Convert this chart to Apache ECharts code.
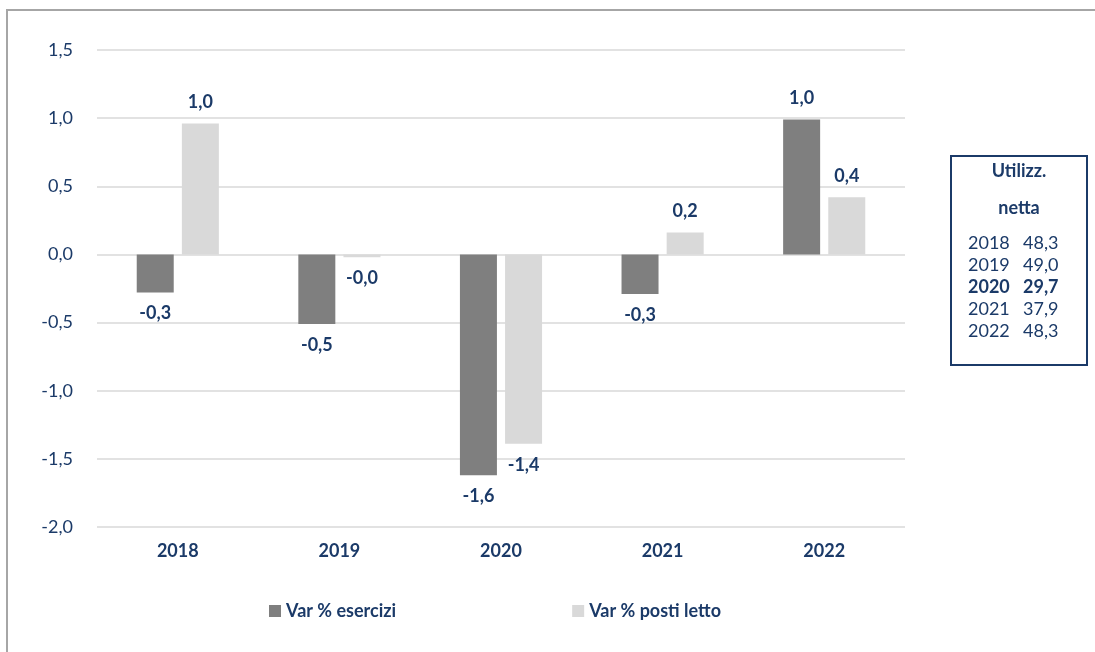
<!DOCTYPE html>
<html>
<head>
<meta charset="utf-8">
<script src="https://cdn.jsdelivr.net/npm/echarts@6/dist/echarts.min.js"></script>
<style>
  html, body { margin: 0; padding: 0; background: #fff; }
  #frame {
    position: absolute; left: 6px; top: 9px; width: 1089px; height: 643px;
    border-top: 2px solid #a6a6a6; border-left: 2px solid #a6a6a6; box-sizing: border-box;
  }
  #chart { position: absolute; left: 0; top: 0; width: 1095px; height: 652px; }
</style>
</head>
<body>
<div id="frame"></div>
<div id="chart"></div>
<script>
const years = ['2018', '2019', '2020', '2021', '2022']
const varEsercizi = [-0.28, -0.51, -1.62, -0.29, 0.99]
const varPostiLetto = [0.96, -0.02, -1.39, 0.16, 0.42]
const utilizzYears = ['2018', '2019', '2020', '2021', '2022']
const utilizzNetta = ['48,3', '49,0', '29,7', '37,9', '48,3']
const highlightYear = '2020'

const navy = '#1b3a68'
const font = 'Lato, "Open Sans", sans-serif'

const fmt = v => v.toFixed(1).replace('.', ',')

const toData = arr => arr.map(v => ({
  value: v,
  label: { position: v < 0 ? 'bottom' : 'top' }
}))

const labelStyle = {
  show: true,
  distance: 12,
  color: navy,
  fontFamily: font,
  fontWeight: 'bold',
  fontSize: 18,
  formatter: p => fmt(p.value)
}

const chart = echarts.init(document.getElementById('chart'))

// riquadro utilizzazione netta
const boxX = 951, boxY = 156
const txt = (text, x, y, bold, align) => ({
  type: 'text', x: x, y: y,
  style: {
    text: text, fill: navy, fontFamily: font, fontSize: 18,
    fontWeight: bold ? 'bold' : 'normal', align: align || 'left', verticalAlign: 'middle'
  }
})
const boxChildren = [
  { type: 'rect', shape: { x: 0, y: 0, width: 136, height: 209 },
    style: { fill: '#fff', stroke: navy, lineWidth: 2 } },
  txt('Utilizz.', 68, 15, true, 'center'),
  txt('netta', 68, 52, true, 'center')
]
utilizzYears.forEach((y, i) => {
  const b = y === highlightYear
  boxChildren.push(txt(y, 17, 87 + i * 22, b))
  boxChildren.push(txt(utilizzNetta[i], 72, 87 + i * 22, b))
})

const option = {
  animation: false,
  backgroundColor: 'transparent',
  grid: { left: 97, right: 190, top: 50, bottom: 125 },
  legend: {
    left: 264,
    top: 597,
    itemWidth: 12,
    itemHeight: 12,
    itemGap: 176,
    icon: 'rect',
    textStyle: { color: navy, fontFamily: font, fontWeight: 'bold', fontSize: 18 },
    data: ['Var % esercizi', 'Var % posti letto']
  },
  xAxis: {
    type: 'category',
    data: years,
    axisLine: { show: false },
    axisTick: { show: false },
    axisLabel: { color: navy, fontFamily: font, fontWeight: 'bold', fontSize: 18, margin: 15 }
  },
  yAxis: {
    type: 'value',
    min: -2,
    max: 1.5,
    interval: 0.5,
    axisLine: { show: false },
    axisTick: { show: false },
    splitLine: { lineStyle: { color: '#d9d9d9', width: 1.5 } },
    axisLabel: { color: navy, fontFamily: font, fontSize: 18, margin: 24, formatter: v => fmt(v) }
  },
  series: [
    {
      name: 'Var % esercizi',
      type: 'bar',
      data: toData(varEsercizi),
      itemStyle: { color: '#7f7f7f' },
      barWidth: 37,
      barGap: '22%',
      label: labelStyle
    },
    {
      name: 'Var % posti letto',
      type: 'bar',
      data: toData(varPostiLetto),
      itemStyle: { color: '#d9d9d9' },
      barWidth: 37,
      label: labelStyle
    }
  ],
  graphic: [{ type: 'group', x: boxX, y: boxY, children: boxChildren }]
}

chart.setOption(option)
window.addEventListener('resize', () => chart.resize())
</script>
</body>
</html>
